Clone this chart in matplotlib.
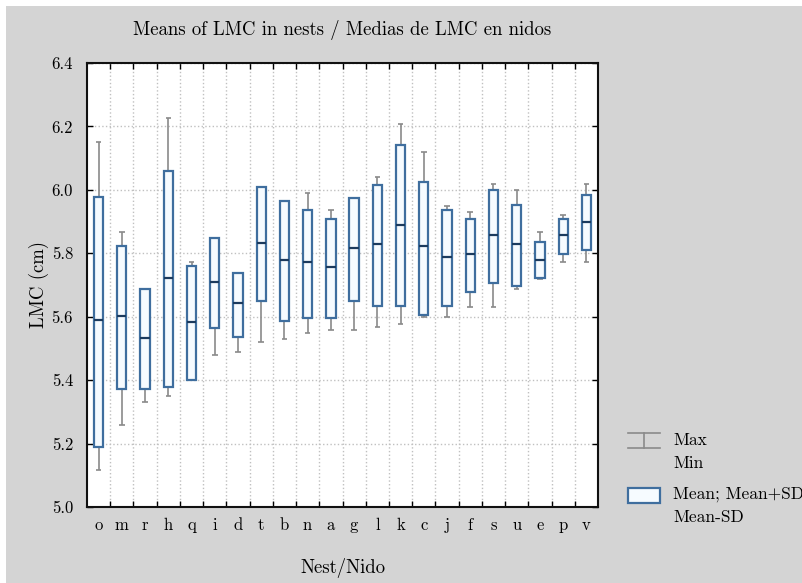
import matplotlib
matplotlib.use("Agg")
import matplotlib.pyplot as plt
from matplotlib.patches import Rectangle
from matplotlib.lines import Line2D
import numpy as np

plt.rcParams['font.family'] = ['cmr10', 'DejaVu Serif']
plt.rcParams['axes.formatter.use_mathtext'] = True

nests = ['o', 'm', 'r', 'h', 'q', 'i', 'd', 't', 'b', 'n', 'a', 'g', 'l', 'k', 'c', 'j', 'f', 's', 'u', 'e', 'p', 'v']
means = [5.589, 5.603, 5.534, 5.723, 5.584, 5.709, 5.642, 5.833, 5.779, 5.772, 5.756, 5.816, 5.828, 5.889, 5.824, 5.788, 5.799, 5.857, 5.828, 5.779, 5.857, 5.900]
mean_plus_sd = [5.979, 5.824, 5.686, 6.061, 5.760, 5.847, 5.739, 6.009, 5.966, 5.937, 5.908, 5.973, 6.014, 6.142, 6.026, 5.937, 5.908, 6.000, 5.953, 5.837, 5.908, 5.985]
mean_minus_sd = [5.190, 5.372, 5.372, 5.377, 5.402, 5.565, 5.537, 5.648, 5.585, 5.597, 5.597, 5.648, 5.633, 5.633, 5.605, 5.633, 5.678, 5.706, 5.698, 5.721, 5.797, 5.810]
maxima = [6.150, 5.868, 5.686, 6.228, 5.772, 5.847, 5.739, 6.009, 5.966, 5.990, 5.938, 5.975, 6.039, 6.208, 6.120, 5.948, 5.929, 6.018, 6.000, 5.868, 5.921, 6.018]
minima = [5.118, 5.260, 5.332, 5.350, 5.400, 5.480, 5.488, 5.519, 5.530, 5.550, 5.558, 5.558, 5.568, 5.577, 5.600, 5.599, 5.630, 5.630, 5.687, 5.720, 5.772, 5.772]

W, H = 802, 583
fig = plt.figure(figsize=(W / 100, H / 100), dpi=100, facecolor='white')
# gray background panel (white margin on top/left as in the reference)
fig.patches.append(Rectangle((6 / W, 0), 1, (H - 6) / H, transform=fig.transFigure,
                             facecolor='#d4d4d4', edgecolor='none', zorder=-10))

ax = fig.add_axes([87 / W, (H - 507) / H, (598 - 87) / W, (507 - 63) / H])
ax.set_facecolor('white')

x = np.arange(len(nests))
box_color = '#3f6e9e'
whisk_color = '#8a8a8a'

means_a = np.array(means)
top = np.array(mean_plus_sd)
bot = np.array(mean_minus_sd)
mx = np.array(maxima)
mn = np.array(minima)

# whiskers
ax.vlines(x, top, mx, color=whisk_color, lw=1.2, zorder=2)
ax.vlines(x, mn, bot, color=whisk_color, lw=1.2, zorder=2)
ax.hlines(mx, x - 0.12, x + 0.12, color=whisk_color, lw=1.2, zorder=2)
ax.hlines(mn, x - 0.12, x + 0.12, color=whisk_color, lw=1.2, zorder=2)

# boxes
ax.bar(x, top - bot, bottom=bot, width=0.4, facecolor='#f6fbff',
       edgecolor=box_color, linewidth=1.6, zorder=3)
ax.hlines(means_a, x - 0.2, x + 0.2, color='#1c3b5e', lw=1.6, zorder=4)

ax.set_xlim(-0.5, len(nests) - 0.5)
ax.set_ylim(5.0, 6.4)
ax.set_yticks(np.arange(5.0, 6.41, 0.2))
ax.set_yticklabels([f'{v:.1f}' for v in np.arange(5.0, 6.41, 0.2)])
ax.set_xticks(x)
ax.set_xticklabels(nests)
ax.set_xticks(np.arange(0.5, len(nests) - 0.5, 1), minor=True)
ax.tick_params(axis='x', which='major', length=0, labelsize=12, pad=8)
ax.tick_params(axis='x', which='minor', direction='in', length=4, top=True, bottom=True, width=1)
ax.tick_params(axis='y', direction='in', length=4, right=True, left=True, labelsize=12, pad=10, width=1)

ax.grid(True, axis='y', which='major', linestyle=':', color='#c0c0c0', lw=1)
ax.grid(True, axis='x', which='minor', linestyle=':', color='#c0c0c0', lw=1)
ax.set_axisbelow(True)
for s in ax.spines.values():
    s.set_linewidth(1.5)
    s.set_color('#111111')

ax.set_title('Means of LMC in nests / Medias de LMC en nidos', fontsize=13.5, pad=20)
ax.set_ylabel('LMC (cm)', fontsize=13.5, labelpad=2)
ax.set_xlabel('Nest/Nido', fontsize=13.5, labelpad=18)

# custom legend (figure coordinates)
def fx(px):
    return px / W

def fy(py):
    return (H - py) / H

fig.add_artist(Line2D([fx(628), fx(660)], [fy(433), fy(433)], color=whisk_color, lw=1.2, transform=fig.transFigure))
fig.add_artist(Line2D([fx(628), fx(660)], [fy(448), fy(448)], color=whisk_color, lw=1.2, transform=fig.transFigure))
fig.add_artist(Line2D([fx(644), fx(644)], [fy(433), fy(448)], color=whisk_color, lw=1.2, transform=fig.transFigure))
fig.text(fx(673), fy(440), 'Max', fontsize=12.5, va='center', ha='left')
fig.text(fx(673), fy(463), 'Min', fontsize=12.5, va='center', ha='left')
fig.add_artist(Rectangle((fx(628), fy(503)), fx(660) - fx(628), fy(488) - fy(503),
                         transform=fig.transFigure, facecolor='#f6fbff', edgecolor=box_color, lw=1.6))
fig.text(fx(673), fy(494), 'Mean; Mean+SD', fontsize=12.5, va='center', ha='left')
fig.text(fx(673), fy(517), 'Mean-SD', fontsize=12.5, va='center', ha='left')

fig.savefig('out.png', dpi=100, facecolor=fig.get_facecolor())
